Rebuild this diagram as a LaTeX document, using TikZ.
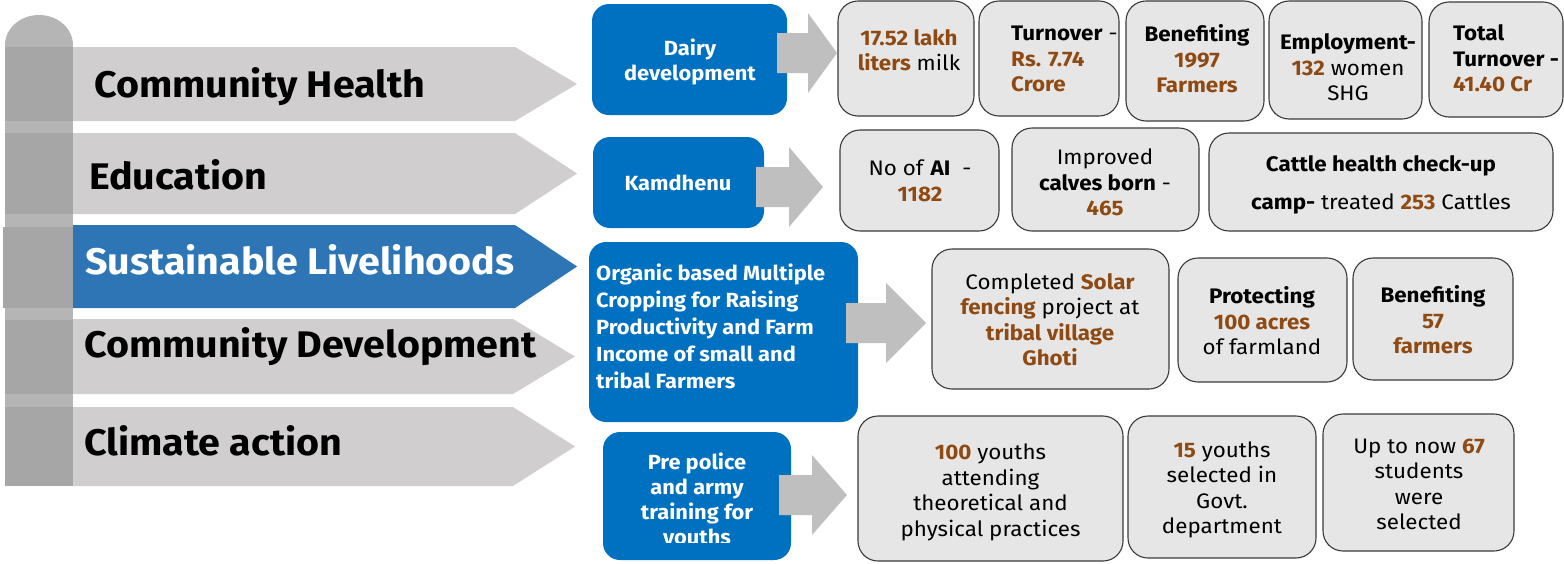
\documentclass[tikz,border=0pt]{standalone}
\usepackage{fontspec}
\setmainfont[FakeStretch=1.065]{Fira Sans}
\definecolor{postlight}{HTML}{B5B5B5}
\definecolor{postdark}{HTML}{A6A6A6}
\definecolor{signgray}{HTML}{D0CECF}
\definecolor{signblue}{HTML}{2E75B6}
\definecolor{boxblue}{HTML}{0070C0}
\definecolor{blockgray}{HTML}{BFBFBF}
\definecolor{boxfill}{HTML}{E7E6E6}
\definecolor{boxline}{HTML}{3A3A3A}
\definecolor{brn}{HTML}{8E4A12}
\newcommand{\bn}[1]{\textbf{\color{brn}#1}}
% gray block arrow: x start, x of head base, x of tip, y of axis
\newcommand{\blockarrow}[4]{%
  \fill[blockgray] (#1,#4-20) -- (#2,#4-20) -- (#2,#4-40) -- (#3,#4)
    -- (#2,#4+40) -- (#2,#4+20) -- (#1,#4+20) -- cycle;}
% signpost board: top, bottom, end of straight part, tip, colour
\newcommand{\board}[5]{%
  \fill[#5] (73,#1) -- (#3,#1) -- (#4,{(#1+#2)/2}) -- (#3,#2) -- (73,#2) -- cycle;}
\tikzset{
  graybox/.style={draw=boxline, line width=1.1pt, fill=boxfill, rounded corners=20pt, inner sep=0pt},
  bluebox/.style={fill=boxblue, rounded corners=17pt, inner sep=0pt},
  boxtext/.style={font=\fontsize{21}{25.5}\selectfont, align=center, inner sep=0pt, text=black, yshift=-3pt},
  bluetext/.style={font=\fontsize{20.5}{25}\selectfont\bfseries, text=white, align=center, inner sep=0pt, yshift=-2.5pt},
  signlabel/.style={font=\fontsize{37}{40}\selectfont\bfseries, anchor=base west, inner sep=0pt},
}
\begin{document}
\begin{tikzpicture}[x=1pt, y=-1pt]
\useasboundingbox (0,0) rectangle (1564,563);

% ---- signpost ----
\fill[postlight] (39,45) ellipse [x radius=34, y radius=30];
\fill[postlight] (5,45) rectangle (73,486);
\fill[postdark] (5,47) rectangle (73,121);
\fill[postdark] (5,133) rectangle (73,214);
\fill[postdark] (3,227) rectangle (73,308);
\fill[postdark] (5,320) rectangle (73,394);
\fill[postdark] (5,407) rectangle (73,486);

\board{47}{121}{515}{577}{signgray}
\board{133}{214}{515}{577}{signgray}
\board{225}{308}{515}{577}{signblue}
\board{319}{394}{513}{575}{signgray}
\board{407}{486}{513}{575}{signgray}

\node[signlabel] (health) at (94,97) {Community Health};
\node[signlabel] (educ) at (89,189) {Education};
\node[signlabel, text=white] (liveli) at (85,274) {Sustainable Livelihoods};
\node[signlabel] (commdev) at (84,357) {Community Development};
\node[signlabel] (climate) at (84,455) {Climate action};

% ---- programme boxes ----
\node[bluebox, minimum width=195, minimum height=111] (dairy) at (689.5,59.5) {};
\node[bluetext] (dairyT) at (690,60) {\strut Dairy\\\strut development};

\node[bluebox, minimum width=171, minimum height=91] (kam) at (678.5,182.5) {};
\node[bluetext] (kamT) at (678,183) {\strut Kamdhenu};

\node[bluebox, minimum width=269, minimum height=180] (organic) at (723.5,332) {};
\node[bluetext, align=left, anchor=west, font=\fontsize{20.5}{27}\selectfont\bfseries] (organicT) at (596,326.5)
  {\strut Organic based Multiple\\\strut Cropping for Raising\\\strut Productivity and Farm\\\strut Income of small and\\\strut tribal Farmers};

\node[bluebox, minimum width=188, minimum height=128] (police) at (697,496) {};
\begin{scope}
  \clip (603,432) rectangle (791,542);
  \node[bluetext] (policeT) at (697,499) {\strut Pre police\\\strut and army\\\strut training for\\\strut youths};
\end{scope}

% ---- block arrows ----
\blockarrow{777}{808}{837}{53}
\blockarrow{756}{789}{823}{187}
\blockarrow{846}{886}{926}{323}
\blockarrow{779}{812}{847}{495}

% ---- row 1: dairy ----
\node[graybox, minimum width=136, minimum height=115] (milk) at (906,58.5) {};
\node[boxtext] (milkT) at (909,50) {\strut\bn{17.52 lakh}\\\strut\bn{liters} milk};
\node[graybox, minimum width=140, minimum height=115] (turn) at (1049,58.5) {};
\node[boxtext, align=left, anchor=west] (turnT) at (1011,58) {\strut\textbf{Turnover} -\\\strut\bn{Rs. 7.74}\\\strut\bn{Crore}};
\node[graybox, minimum width=138, minimum height=120] (bene) at (1195,61) {};
\node[boxtext] (beneT) at (1197,59) {\strut\textbf{Benefiting}\\\strut\bn{1997}\\\strut\bn{Farmers}};
\node[graybox, minimum width=153, minimum height=118] (empl) at (1345.5,60) {};
\node[boxtext] (emplT) at (1348,67) {\strut\textbf{Employment-}\\\strut\bn{132} women\\\strut SHG};
\node[graybox, minimum width=134, minimum height=115] (total) at (1496,59.5) {};
\node[boxtext, align=left, anchor=west] (totalT) at (1453,58) {\strut\textbf{Total}\\\strut\textbf{Turnover -}\\\strut\bn{41.40 Cr}};

% ---- row 2: kamdhenu ----
\node[graybox, minimum width=159, minimum height=101] (ai) at (919.5,180.5) {};
\node[boxtext] (aiT) at (920,180.5) {\strut No of \textbf{AI}\ \ -\\\strut\bn{1182}};
\node[graybox, minimum width=187, minimum height=103] (calves) at (1105.5,179.5) {};
\node[boxtext] (calvesT) at (1105,182) {\strut Improved\\\strut\textbf{calves born} -\\\strut\bn{465}};
\node[graybox, minimum width=344, minimum height=98] (cattle) at (1381,182) {};
\node[boxtext, font=\fontsize{21}{38}\selectfont] (cattleT) at (1381,180) {\strut\textbf{Cattle health check-up}\\\strut\textbf{camp-} treated \bn{253} Cattles};

% ---- row 3: organic farming ----
\node[graybox, minimum width=237, minimum height=140] (solar) at (1050.5,319) {};
\node[boxtext] (solarT) at (1050,319.5) {\strut Completed \bn{Solar}\\\strut\bn{fencing} project at\\\strut\bn{tribal village}\\\strut\bn{Ghoti}};
\node[graybox, minimum width=169, minimum height=124] (protect) at (1262.5,320) {};
\node[boxtext] (protectT) at (1262,321) {\strut\textbf{Protecting}\\\strut\bn{100 acres}\\\strut of farmland};
\node[graybox, minimum width=160, minimum height=122] (bene57) at (1433,319) {};
\node[boxtext] (bene57T) at (1433,320) {\strut\textbf{Benefiting}\\\strut\bn{57}\\\strut\bn{farmers}};

% ---- row 4: training ----
\node[graybox, minimum width=265, minimum height=145] (y100) at (990.5,488.5) {};
\node[boxtext] (y100T) at (990.5,490) {\strut\bn{100} youths\\\strut attending\\\strut theoretical and\\\strut physical practices};
\node[graybox, minimum width=188, minimum height=142] (y15) at (1222,487) {};
\node[boxtext] (y15T) at (1222,487.5) {\strut\bn{15} youths\\\strut selected in\\\strut Govt.\\\strut department};
\node[graybox, minimum width=191, minimum height=137] (y67) at (1418.5,482.5) {};
\node[boxtext] (y67T) at (1419,483.5) {\strut Up to now \bn{67}\\\strut students\\\strut were\\\strut selected};
\end{tikzpicture}
\end{document}
